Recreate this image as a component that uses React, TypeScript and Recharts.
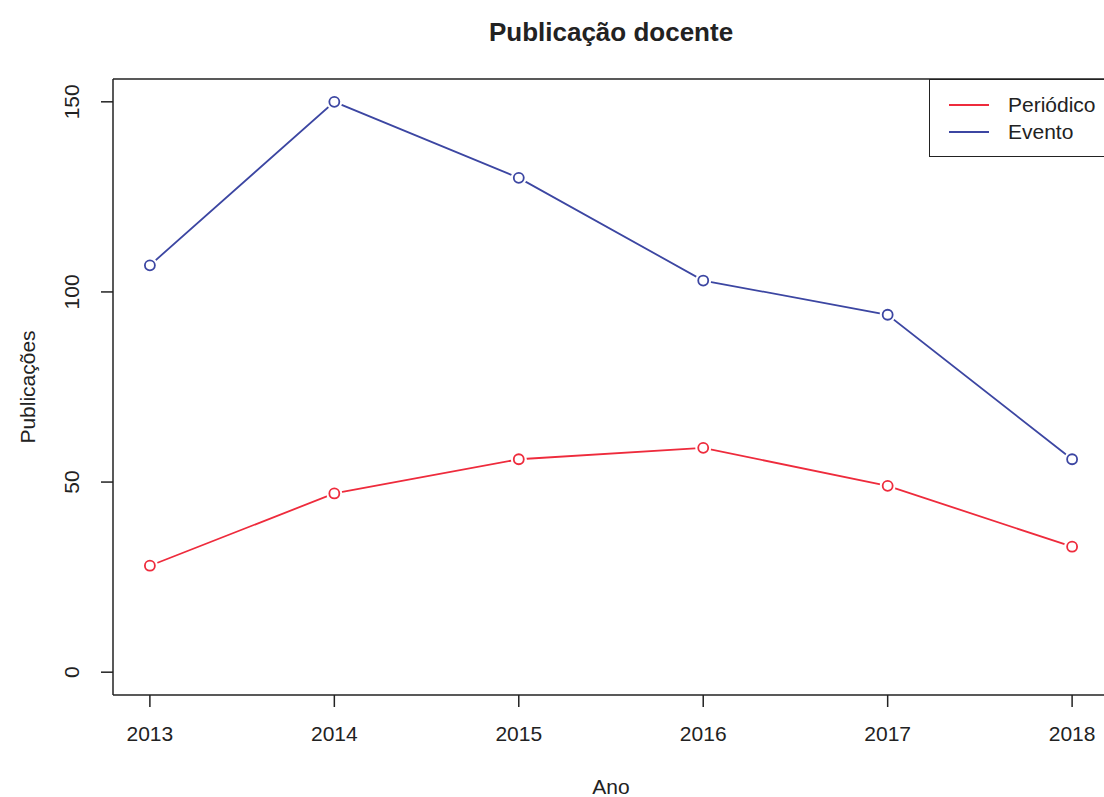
import { LineChart, Line, XAxis, YAxis, Legend, Label, ReferenceLine } from "recharts";

const years = [2013, 2014, 2015, 2016, 2017, 2018];
const periodico = [28, 47, 56, 59, 49, 33];
const evento = [107, 150, 130, 103, 94, 56];
const yTicks = [0, 50, 100, 150];

const RED = "#ee2b3c";
const BLUE = "#3c46a2";
const FONT = "'Liberation Sans', Arial, Helvetica, sans-serif";

const data = years.map((year, i) => ({
  year,
  periodico: periodico[i],
  evento: evento[i],
}));

// R type="b": open circle with a small gap around it
const makeDot = (color: string) => (props: any) => {
  const { cx, cy, index } = props;
  if (cx == null || cy == null) return <g key={index} />;
  return (
    <g key={index}>
      <circle cx={cx} cy={cy} r={8} fill="#fff" stroke="none" />
      <circle cx={cx} cy={cy} r={5} fill="#fff" stroke={color} strokeWidth={1.8} />
    </g>
  );
};

const YTick = ({ x, y, payload }: any) => (
  <text
    x={x - 20}
    y={y}
    transform={`rotate(-90 ${x - 20} ${y})`}
    textAnchor="middle"
    fontSize={21}
    fontFamily={FONT}
    fill="#222"
  >
    {payload.value}
  </text>
);

const XTick = ({ x, y, payload }: any) => (
  <text x={x} y={y + 32} textAnchor="middle" fontSize={21} fontFamily={FONT} fill="#222">
    {payload.value}
  </text>
);

const LegendBox = () => (
  <div
    style={{
      border: "1.5px solid #222",
      width: 220,
      height: 78,
      boxSizing: "border-box",
      background: "#fff",
      fontFamily: FONT,
      fontSize: 21,
      color: "#222",
      paddingTop: 11,
    }}
  >
    {[
      { name: "Periódico", color: RED },
      { name: "Evento", color: BLUE },
    ].map((it) => (
      <div key={it.name} style={{ display: "flex", alignItems: "center", height: 27 }}>
        <svg width={78} height={10}>
          <line x1={19} x2={59} y1={5} y2={5} stroke={it.color} strokeWidth={1.8} />
        </svg>
        <span>{it.name}</span>
      </div>
    ))}
  </div>
);

export default function App() {
  return (
    <div
      style={{
        position: "absolute",
        left: 0,
        top: 0,
        width: 1104,
        height: 797,
        overflow: "hidden",
        background: "#fff",
      }}
    >
      <LineChart
        width={1112}
        height={797}
        data={data}
        margin={{ top: 79, right: 3, bottom: 42, left: 53 }}
      >
        <XAxis
          dataKey="year"
          type="number"
          domain={[2012.8, 2018.2]}
          ticks={years}
          allowDataOverflow
          stroke="#222"
          strokeWidth={1.5}
          tickSize={12}
          tick={<XTick />}
          height={60}
        >
          <Label
            value="Ano"
            position="bottom"
            offset={24}
            fontSize={21}
            fontFamily={FONT}
            fill="#222"
          />
        </XAxis>
        <YAxis
          type="number"
          domain={[-6, 156]}
          ticks={yTicks}
          allowDataOverflow
          stroke="#222"
          strokeWidth={1.5}
          tickSize={12}
          tick={<YTick />}
          width={60}
        >
          <Label
            content={({ viewBox }: any) => {
              const cx = 27;
              const cy = viewBox.y + viewBox.height / 2;
              return (
                <text
                  x={cx}
                  y={cy}
                  transform={`rotate(-90 ${cx} ${cy})`}
                  textAnchor="middle"
                  dominantBaseline="central"
                  fontSize={21}
                  fontFamily={FONT}
                  fill="#222"
                >
                  Publicações
                </text>
              );
            }}
          />
        </YAxis>
        {/* top edge of the plot box, carrying the title */}
        <ReferenceLine y={156} stroke="#222" strokeWidth={1.5} ifOverflow="visible">
          <Label
            value="Publicação docente"
            position="top"
            offset={38}
            fontSize={26}
            fontWeight="bold"
            fontFamily={FONT}
            fill="#222"
          />
        </ReferenceLine>
        <Legend
          layout="vertical"
          align="center"
          verticalAlign="middle"
          wrapperStyle={{ position: "absolute", left: 929, top: 79, width: 220 }}
          content={<LegendBox />}
        />
        <Line
          type="linear"
          dataKey="periodico"
          stroke={RED}
          strokeWidth={1.8}
          dot={makeDot(RED)}
          activeDot={false}
          isAnimationActive={false}
        />
        <Line
          type="linear"
          dataKey="evento"
          stroke={BLUE}
          strokeWidth={1.8}
          dot={makeDot(BLUE)}
          activeDot={false}
          isAnimationActive={false}
        />
      </LineChart>
    </div>
  );
}
